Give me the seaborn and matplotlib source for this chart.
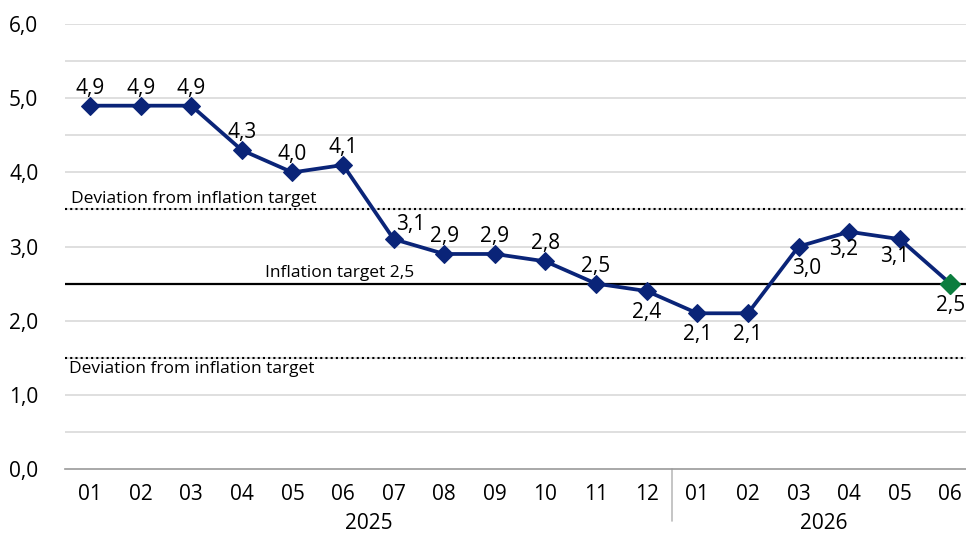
import numpy as np
import pandas as pd
import matplotlib
matplotlib.use("Agg")
import matplotlib.pyplot as plt
import seaborn as sns

months = ["01", "02", "03", "04", "05", "06", "07", "08", "09", "10", "11", "12",
          "01", "02", "03", "04", "05", "06"]
years = ["2025", "2026"]
year_len = [12, 6]
inflation = [4.9, 4.9, 4.9, 4.3, 4.0, 4.1, 3.1, 2.9, 2.9, 2.8, 2.5, 2.4,
             2.1, 2.1, 3.0, 3.2, 3.1, 2.5]
label_below = [False, False, False, False, False, False, False, False, False, False, False, True,
               True, True, True, True, True, True]
target = 2.5
band_hi = 3.5
band_lo = 1.5

navy = "#0a2478"
green = "#0b7d3e"

sns.set_style("white")
plt.rcParams['font.family'] = ['Open Sans', 'DejaVu Sans']
plt.rcParams['text.color'] = 'black'
plt.rcParams['xtick.color'] = 'black'
plt.rcParams['ytick.color'] = 'black'

df = pd.DataFrame({"pos": np.arange(len(months)), "value": inflation})

fig = plt.figure(figsize=(9.66, 5.36), dpi=100)
ax = fig.add_axes([0.067, 0.125, 0.943, 0.83])

# grid every 0.5
for g in np.arange(0.5, 6.01, 0.5):
    ax.axhline(g, color="#d9d9d9", lw=1.2, zorder=0)

ax.axhline(band_hi, color="black", lw=1.5, ls=(0, (1, 1.5)), zorder=1)
ax.axhline(band_lo, color="black", lw=1.5, ls=(0, (1, 1.5)), zorder=1)
ax.axhline(target, color="black", lw=1.6, zorder=1)

sns.lineplot(data=df, x="pos", y="value", ax=ax, color=navy, lw=2.7,
             marker="D", markersize=9, markeredgecolor=navy, zorder=3)
ax.plot(df["pos"].iloc[-1], df["value"].iloc[-1], marker="D", markersize=10,
        color=green, ls="none", zorder=4)

fs = 15
for i, v in enumerate(inflation):
    txt = f"{v:.1f}".replace(".", ",")
    if i == 6:
        ax.annotate(txt, (i, v), xytext=(12, 3), textcoords="offset points",
                    ha="center", va="bottom", fontsize=fs)
    elif label_below[i]:
        dx = 0
        if i == 14:
            dx = 6
        if i == 15:
            dx = -4
        if i == 16:
            dx = -4
        dy = -5 if i in (15, 16) else -8
        ax.annotate(txt, (i, v), xytext=(dx, dy), textcoords="offset points",
                    ha="center", va="top", fontsize=fs)
    else:
        ax.annotate(txt, (i, v), xytext=(0, 5), textcoords="offset points",
                    ha="center", va="bottom", fontsize=fs)

ax.text(-0.38, band_hi + 0.04, "Deviation from inflation target", fontsize=12.5, va="bottom")
ax.text(-0.42, band_lo - 0.04, "Deviation from inflation target", fontsize=12.5, va="top")
ax.text(3.45, target + 0.04, "Inflation target 2,5", fontsize=12.5, va="bottom")

ax.set_xlim(-0.5, 17.5)
ax.set_ylim(0, 6)
ax.set_yticks(np.arange(0, 6.01, 1))
ax.set_yticklabels([f"{t:.1f}".replace(".", ",") for t in np.arange(0, 6.01, 1)], fontsize=fs)
ax.set_xticks(np.arange(len(months)))
ax.set_xticklabels(months, fontsize=fs)
ax.set_xticks(np.arange(-0.5, len(months), 1), minor=True)
ax.tick_params(axis="x", which="major", length=0, pad=11)
ax.tick_params(axis="x", which="minor", length=7, color="#999999", width=1.2)
ax.tick_params(axis="y", length=0, pad=19)
ax.set_xlabel("")
ax.set_ylabel("")
for s in ["left", "right", "top"]:
    ax.spines[s].set_visible(False)
ax.spines["bottom"].set_color("#999999")
ax.spines["bottom"].set_linewidth(1.2)

# year labels and separator
start = 0
for y, n in zip(years, year_len):
    ax.text(start + (n - 1) / 2, -0.59, y, ha="center", va="top", fontsize=fs,
            transform=ax.transData, clip_on=False)
    start += n
ax.plot([11.5, 11.5], [0, -0.7], color="#bbbbbb", lw=1.2, clip_on=False)

fig.savefig("out.png", dpi=100)
